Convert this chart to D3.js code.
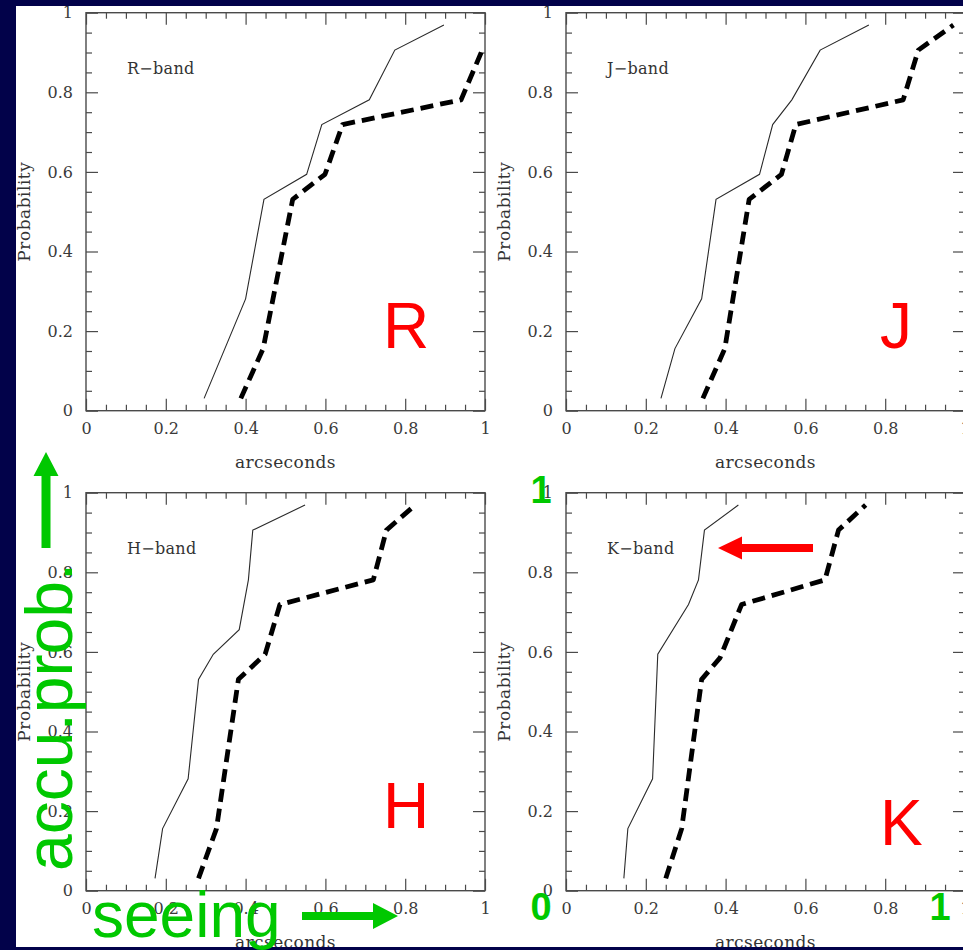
<!DOCTYPE html>
<html><head><meta charset="utf-8">
<script src="https://cdn.jsdelivr.net/npm/d3@7"></script>
<style>
html,body{margin:0;padding:0;background:#02024a;}
svg{display:block;}
</style></head><body>
<svg id="chart" width="963" height="950"></svg>
<script>
// Cumulative seeing distributions per band: solid = one condition, dashed = the other
const bandNames = ["R\u2212band", "J\u2212band", "H\u2212band", "K\u2212band"];
const bandLetters = ["R", "J", "H", "K"];
const majorTicks = [0, 0.2, 0.4, 0.6, 0.8, 1];
const tickLabels = ["0", "0.2", "0.4", "0.6", "0.8", "1"];
const minorTicks = [0.05, 0.1, 0.15, 0.25, 0.3, 0.35, 0.45, 0.5, 0.55, 0.65, 0.7, 0.75, 0.85, 0.9, 0.95];

const rSolidX  = [0.296, 0.400, 0.446, 0.553, 0.591, 0.710, 0.774, 0.897];
const rSolidY  = [0.031, 0.281, 0.531, 0.594, 0.719, 0.781, 0.906, 0.969];
const rDashX   = [0.388, 0.444, 0.518, 0.599, 0.643, 0.940, 0.993, 0.998];
const rDashY   = [0.031, 0.156, 0.531, 0.594, 0.719, 0.781, 0.906, 0.914];

const jSolidX  = [0.238, 0.273, 0.340, 0.376, 0.485, 0.518, 0.566, 0.637, 0.759];
const jSolidY  = [0.031, 0.156, 0.281, 0.531, 0.594, 0.719, 0.781, 0.906, 0.969];
const jDashX   = [0.343, 0.398, 0.459, 0.540, 0.576, 0.845, 0.883, 0.971];
const jDashY   = [0.031, 0.156, 0.531, 0.594, 0.719, 0.781, 0.906, 0.969];

const hSolidX  = [0.173, 0.192, 0.256, 0.282, 0.319, 0.384, 0.407, 0.418, 0.549];
const hSolidY  = [0.031, 0.156, 0.281, 0.531, 0.594, 0.656, 0.781, 0.906, 0.969];
const hDashX   = [0.282, 0.327, 0.382, 0.449, 0.486, 0.720, 0.753, 0.825];
const hDashY   = [0.031, 0.156, 0.531, 0.594, 0.719, 0.781, 0.906, 0.969];

const kSolidX  = [0.145, 0.155, 0.217, 0.230, 0.307, 0.332, 0.347, 0.432];
const kSolidY  = [0.031, 0.156, 0.281, 0.594, 0.719, 0.781, 0.906, 0.969];
const kDashX   = [0.250, 0.290, 0.340, 0.386, 0.440, 0.649, 0.683, 0.751];
const kDashY   = [0.031, 0.156, 0.531, 0.585, 0.719, 0.781, 0.906, 0.969];

const zip = (xs, ys) => xs.map((x, i) => [x, ys[i]]);
const panels = [
  { solid: zip(rSolidX, rSolidY), dashed: zip(rDashX, rDashY) },
  { solid: zip(jSolidX, jSolidY), dashed: zip(jDashX, jDashY) },
  { solid: zip(hSolidX, hSolidY), dashed: zip(hDashX, hDashY) },
  { solid: zip(kSolidX, kSolidY), dashed: zip(kDashX, kDashY) }
];

const W = 963, H = 950;
const svg = d3.select("#chart");
svg.append("rect").attr("width", W).attr("height", H).attr("fill", "#02024a");

// white slide area
const page = { x: 16, y: 6, w: W - 16, h: 941 };
svg.append("clipPath").attr("id", "pageClip").append("rect")
  .attr("x", page.x).attr("y", page.y).attr("width", page.w).attr("height", page.h);
svg.append("rect").attr("x", page.x).attr("y", page.y).attr("width", page.w).attr("height", page.h).attr("fill", "#fff");

const content = svg.append("g").attr("clip-path", "url(#pageClip)");

const pw = 399, ph = 398;
const origins = [[86, 12.7], [566, 12.7], [86, 492.7], [566, 492.7]];
const x = d3.scaleLinear().domain([0, 1]).range([0, pw]);
const y = d3.scaleLinear().domain([0, 1]).range([ph, 0]);
const serif = "'DejaVu Serif', serif";
const frameColor = "#4a4a4a";

const line = d3.line().x(d => x(d[0])).y(d => y(d[1]));

panels.forEach((p, i) => {
  const [ox, oy] = origins[i];
  const g = content.append("g").attr("transform", `translate(${ox},${oy})`);

  g.append("clipPath").attr("id", "plotClip" + i).append("rect")
    .attr("width", pw).attr("height", ph);

  const fmt = (d) => tickLabels[majorTicks.indexOf(d)];
  const styleAxis = (a) => {
    a.select(".domain").remove();
    a.selectAll(".tick line").attr("stroke", frameColor).attr("stroke-width", 1.2);
    a.selectAll(".tick text").attr("fill", "#3a3a3a").style("font-family", serif).style("font-size", "16px");
  };

  // bottom
  g.append("g").attr("transform", `translate(0,${ph})`)
    .call(d3.axisBottom(x).tickValues(majorTicks).tickFormat(fmt).tickSize(-12).tickPadding(12))
    .call(styleAxis);
  g.append("g").attr("transform", `translate(0,${ph})`)
    .call(d3.axisBottom(x).tickValues(minorTicks).tickFormat("").tickSize(-6))
    .call(styleAxis);
  // top
  g.append("g")
    .call(d3.axisTop(x).tickValues(majorTicks).tickFormat("").tickSize(-12))
    .call(styleAxis);
  g.append("g")
    .call(d3.axisTop(x).tickValues(minorTicks).tickFormat("").tickSize(-6))
    .call(styleAxis);
  // left
  g.append("g")
    .call(d3.axisLeft(y).tickValues(majorTicks).tickFormat(fmt).tickSize(-12).tickPadding(13))
    .call(styleAxis);
  g.append("g")
    .call(d3.axisLeft(y).tickValues(minorTicks).tickFormat("").tickSize(-6))
    .call(styleAxis);
  // right
  g.append("g").attr("transform", `translate(${pw},0)`)
    .call(d3.axisRight(y).tickValues(majorTicks).tickFormat("").tickSize(-12))
    .call(styleAxis);
  g.append("g").attr("transform", `translate(${pw},0)`)
    .call(d3.axisRight(y).tickValues(minorTicks).tickFormat("").tickSize(-6))
    .call(styleAxis);

  g.append("rect").attr("width", pw).attr("height", ph)
    .attr("fill", "none").attr("stroke", frameColor).attr("stroke-width", 1.4);

  // axis titles
  g.append("text").attr("x", pw / 2).attr("y", ph + 57).attr("text-anchor", "middle")
    .attr("fill", "#333").style("font-family", serif).style("font-size", "17px")
    .style("letter-spacing", "0.4px").text("arcseconds");
  g.append("text").attr("transform", `translate(-56.5,${ph / 2}) rotate(-90)`)
    .attr("text-anchor", "middle").attr("fill", "#333")
    .style("font-family", serif).style("font-size", "17px").style("letter-spacing", "0.5px")
    .text("Probability");

  // band name
  g.append("text").attr("x", 41).attr("y", 61.3)
    .attr("fill", "#333").style("font-family", serif).style("font-size", "16px")
    .style("letter-spacing", "0.3px").text(bandNames[i]);

  const lines = g.append("g").attr("clip-path", `url(#plotClip${i})`);
  lines.append("path").datum(p.solid).attr("d", line)
    .attr("fill", "none").attr("stroke", "#2a2a2a").attr("stroke-width", 1.1);
  lines.append("path").datum(p.dashed).attr("d", line)
    .attr("fill", "none").attr("stroke", "#000").attr("stroke-width", 4.8)
    .attr("stroke-dasharray", "13,7").attr("stroke-linejoin", "round");
});

// big band letters
const letterPos = [[297, 335], [314, 335], [297, 335], [314, 352]];
bandLetters.forEach((L, i) => {
  content.append("text")
    .attr("x", origins[i][0] + letterPos[i][0]).attr("y", origins[i][1] + letterPos[i][1])
    .attr("fill", "#ff0000").style("font-family", "'Liberation Sans', Arial, sans-serif")
    .style("font-size", "64px").text(L);
});

// overlay notes
const sans = "'Liberation Sans', Arial, sans-serif";
const green = "#00c800";
const notes = svg.append("g");

function arrow(x1, y1, x2, y2, shaftW, headLen, headHalf, color) {
  const dx = x2 - x1, dy = y2 - y1, len = Math.hypot(dx, dy);
  const ux = dx / len, uy = dy / len, nx = -uy, ny = ux;
  const bx = x2 - ux * headLen, by = y2 - uy * headLen;
  const p = d3.path();
  p.moveTo(x1 + nx * shaftW / 2, y1 + ny * shaftW / 2);
  p.lineTo(bx + nx * shaftW / 2, by + ny * shaftW / 2);
  p.lineTo(bx + nx * headHalf, by + ny * headHalf);
  p.lineTo(x2, y2);
  p.lineTo(bx - nx * headHalf, by - ny * headHalf);
  p.lineTo(bx - nx * shaftW / 2, by - ny * shaftW / 2);
  p.lineTo(x1 - nx * shaftW / 2, y1 - ny * shaftW / 2);
  p.closePath();
  notes.append("path").attr("d", p.toString()).attr("fill", color);
}

arrow(46, 548, 46, 452, 9, 24, 12.5, green);
arrow(302, 916, 398, 916, 8, 25, 13, green);
arrow(813, 548, 718, 548, 8, 24, 11.5, "#ff0000");

notes.append("text").attr("transform", "translate(72,871) rotate(-90)")
  .attr("fill", green).style("font-family", sans).style("font-size", "66px").text("accu.prob.");
notes.append("text").attr("x", 92).attr("y", 937)
  .attr("fill", green).style("font-family", sans).style("font-size", "64px").text("seeing");

const digits = [["1", 541, 503], ["0", 541, 920], ["1", 940, 920]];
digits.forEach(([t, dx, dy]) => {
  notes.append("text").attr("x", dx).attr("y", dy).attr("text-anchor", "middle")
    .attr("fill", green).style("font-family", sans).style("font-weight", "bold")
    .style("font-size", "38px").text(t);
});
</script>
</body></html>
